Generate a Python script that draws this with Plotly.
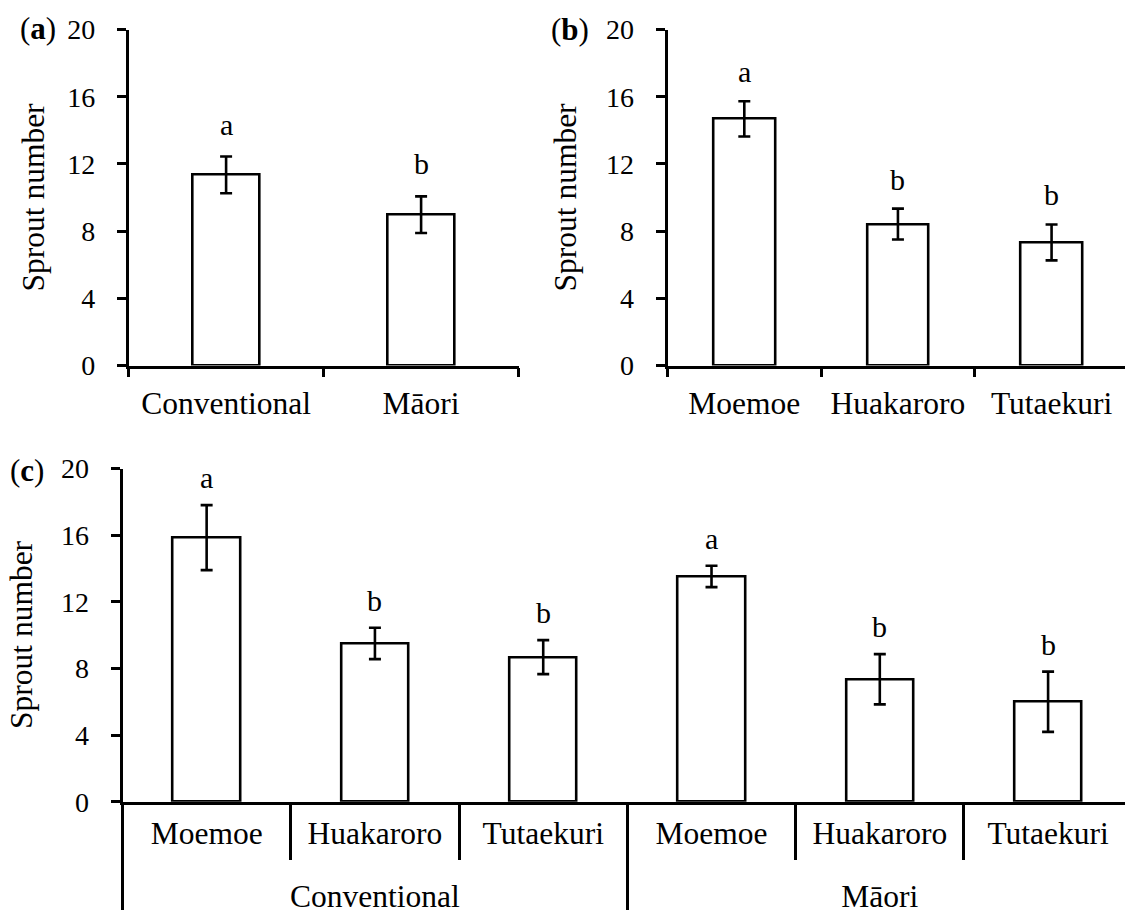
import plotly.graph_objects as go

# ---- data ----
a_cats = ["Conventional", "Māori"]
a_mean = [11.35, 8.98]
a_se = [1.09, 1.09]
a_letters = ["a", "b"]

b_cats = ["Moemoe", "Huakaroro", "Tutaekuri"]
b_mean = [14.68, 8.42, 7.33]
b_se = [1.05, 0.92, 1.07]
b_letters = ["a", "b", "b"]

c_groups = ["Conventional"] * 3 + ["Māori"] * 3
c_sites = ["Moemoe", "Huakaroro", "Tutaekuri"] * 2
c_mean = [15.85, 9.50, 8.68, 13.52, 7.35, 6.00]
c_se = [1.95, 0.94, 1.02, 0.64, 1.51, 1.81]
c_letters = ["a", "b", "b", "a", "b", "b"]

y_ticks = [0, 4, 8, 12, 16, 20]

# ---- style ----
W, H = 1125, 910
FONT = "Liberation Serif"
TXT = 31.5
LW = 2.6


def px_x(p):
    return p / W


def px_y(p):
    return 1 - p / H


def big(s):
    return f"<span style='font-size:{TXT}px'>{s}</span>"


def bar(x, mean, se, width, xa, ya):
    return go.Bar(
        x=x, y=mean, width=width,
        marker=dict(color="white", line=dict(color="black", width=LW)),
        error_y=dict(type="data", array=se, visible=True,
                     color="black", thickness=LW, width=6),
        xaxis=xa, yaxis=ya, showlegend=False, hoverinfo="skip",
    )


fig = go.Figure()
fig.add_trace(bar(a_cats, a_mean, a_se, 0.34, "x", "y"))
fig.add_trace(bar(b_cats, b_mean, b_se, 0.40, "x2", "y2"))
# two-level axis for panel (c); the group row is pushed down by a short blank line
c_x = [["<br>" + big(g) for g in c_groups], [big(s) for s in c_sites]]
fig.add_trace(bar(c_x, c_mean, c_se, 0.40, "x3", "y3"))

yax = dict(range=[0, 20], tickvals=y_ticks, showline=True, linecolor="black",
           linewidth=LW, ticks="outside", ticklen=9, tickwidth=LW,
           tickcolor="black", showgrid=False, zeroline=False, automargin=False,
           tickfont=dict(size=28, color="black", family=FONT),
           ticklabelstandoff=16, fixedrange=True)
xax = dict(type="category", showline=True, linecolor="black", linewidth=LW,
           ticks="outside", tickson="boundaries", ticklen=9, tickwidth=LW,
           tickcolor="black", showgrid=False, zeroline=False, automargin=False,
           tickfont=dict(size=TXT, color="black", family=FONT),
           ticklabelstandoff=8, fixedrange=True)

# panel domains (pixel-based)
ya_dom = [px_y(365.6), px_y(29.5)]
yc_dom = [px_y(801.7), px_y(468.5)]

fig.update_layout(
    template="none",
    width=W, height=H,
    margin=dict(l=0, r=0, t=0, b=0, autoexpand=False),
    paper_bgcolor="white", plot_bgcolor="white",
    font=dict(family=FONT, size=TXT, color="black"),
    bargap=0,
    xaxis=dict(xax, domain=[px_x(128.6), px_x(518.6)], range=[-0.5, 1.5], anchor="y"),
    yaxis=dict(yax, domain=ya_dom, anchor="x"),
    xaxis2=dict(xax, domain=[px_x(667.5), 1.0], range=[-0.5, 2.478], anchor="y2"),
    yaxis2=dict(yax, domain=ya_dom, anchor="x2"),
    xaxis3=dict(xax, type="multicategory", domain=[px_x(122.5), 1.0],
                range=[-0.5, 5.457], anchor="y3", ticklen=55,
                tickfont=dict(size=26, color="black", family=FONT),
                showdividers=True, dividercolor="black", dividerwidth=LW),
    yaxis3=dict(yax, domain=yc_dom, anchor="x3"),
)


# significance letters above the error bars
def letters(mean, se, labs, xr, yr, shift):
    for i, (m, s, t) in enumerate(zip(mean, se, labs)):
        fig.add_annotation(x=i, y=m + s, xref=xr, yref=yr, text=t,
                           showarrow=False, yanchor="bottom", yshift=shift,
                           font=dict(size=30, family=FONT, color="black"))


letters(a_mean, a_se, a_letters, "x", "y", 14)
letters(b_mean, b_se, b_letters, "x2", "y2", 11)
letters(c_mean, c_se, c_letters, "x3", "y3", 9)

# panel tags and axis titles
for tag, xp, yp in [("a", 18, 29), ("b", 549, 30), ("c", 8, 470)]:
    fig.add_annotation(x=px_x(xp), y=px_y(yp), xref="paper", yref="paper",
                       text=f"(<b>{tag}</b>)", showarrow=False,
                       xanchor="left", yanchor="middle",
                       font=dict(size=31, family=FONT, color="black"))

for xp, yp in [(33, 197.5), (565, 197.5), (21, 635)]:
    fig.add_annotation(x=px_x(xp), y=px_y(yp), xref="paper", yref="paper",
                       text="Sprout number", textangle=-90, showarrow=False,
                       xanchor="center", yanchor="middle",
                       font=dict(size=TXT, family=FONT, color="black"))

fig.write_html("out.html")
